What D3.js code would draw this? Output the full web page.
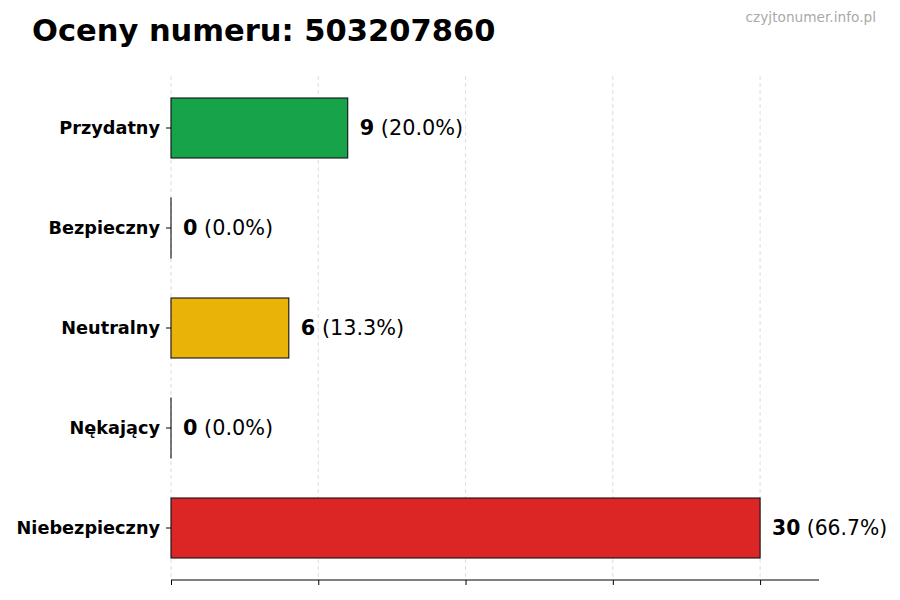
<!DOCTYPE html>
<html><head><meta charset="utf-8">
<script src="https://cdn.jsdelivr.net/npm/d3@7"></script>
<style>body{margin:0;background:#fff}svg{display:block}</style>
</head><body>
<svg id="c" width="900" height="600"></svg>
<script>
const categories = ["Przydatny","Bezpieczny","Neutralny","Nękający","Niebezpieczny"];
const values = [9, 0, 6, 0, 30];
const percents = ["20.0%","0.0%","13.3%","0.0%","66.7%"];
const colors = ["#16a34a","#9ca3af","#eab308","#f97316","#dc2626"];
const xTicks = [0, 7.5, 15, 22.5, 30];
const title = "Oceny numeru: 503207860";
const watermark = "czyjtonumer.info.pl";

const svg = d3.select("#c");
const font = "DejaVu Sans, sans-serif";
const x = d3.scaleLinear().domain([0, 33]).range([171, 819]);
const y = d3.scaleBand().domain(categories).range([78, 578]).paddingInner(0.4).paddingOuter(0.2);

// grid
svg.append("g").selectAll("line").data(xTicks).join("line")
  .attr("x1", d => x(d)).attr("x2", d => x(d))
  .attr("y1", 76).attr("y2", 580)
  .attr("stroke", "#d4d4d4").attr("stroke-width", 0.8).attr("stroke-dasharray", "4,3");

// bars
svg.append("g").selectAll("rect").data(values).join("rect")
  .attr("x", x(0)).attr("y", (d, i) => y(categories[i]))
  .attr("width", d => Math.max(x(d) - x(0), 0.01)).attr("height", y.bandwidth())
  .attr("fill", (d, i) => colors[i]).attr("stroke", "#111").attr("stroke-width", 1.1);

// x axis
const xa = svg.append("g").attr("transform", "translate(0,580)")
  .call(d3.axisBottom(x).tickValues(xTicks).tickSize(5).tickFormat(""));
xa.select(".domain").attr("d", `M${x(0)},0H${x(33)}`).attr("stroke", "#000");
xa.selectAll(".tick line").attr("stroke", "#000");

// y axis ticks and labels
const ya = svg.append("g").attr("transform", `translate(${x(0)},0)`)
  .call(d3.axisLeft(y).tickSize(5).tickPadding(6));
ya.select(".domain").remove();
ya.selectAll(".tick line").attr("stroke", "#000");
ya.selectAll(".tick text").attr("font-family", font).attr("font-size", 17.7)
  .attr("font-weight", "bold").attr("fill", "#000");

// value labels
const lab = svg.append("g").selectAll("text").data(values).join("text")
  .attr("x", d => x(d) + 12).attr("y", (d, i) => y(categories[i]) + y.bandwidth() / 2)
  .attr("dy", "0.35em").attr("font-family", font).attr("font-size", 20.8).attr("fill", "#000");
lab.append("tspan").attr("font-weight", "bold").text(d => d);
lab.append("tspan").text((d, i) => " (" + percents[i] + ")");
lab.filter(d => d === 30).attr("textLength", 115).attr("lengthAdjust", "spacingAndGlyphs");

// title
svg.append("text").attr("x", 32).attr("y", 41).attr("font-family", font)
  .attr("font-size", 30.5).attr("font-weight", "bold").attr("fill", "#000").text(title);
svg.append("text").attr("x", 876).attr("y", 22).attr("text-anchor", "end")
  .attr("font-family", font).attr("font-size", 13.7).attr("fill", "#aaa").text(watermark);
</script>
</body></html>
